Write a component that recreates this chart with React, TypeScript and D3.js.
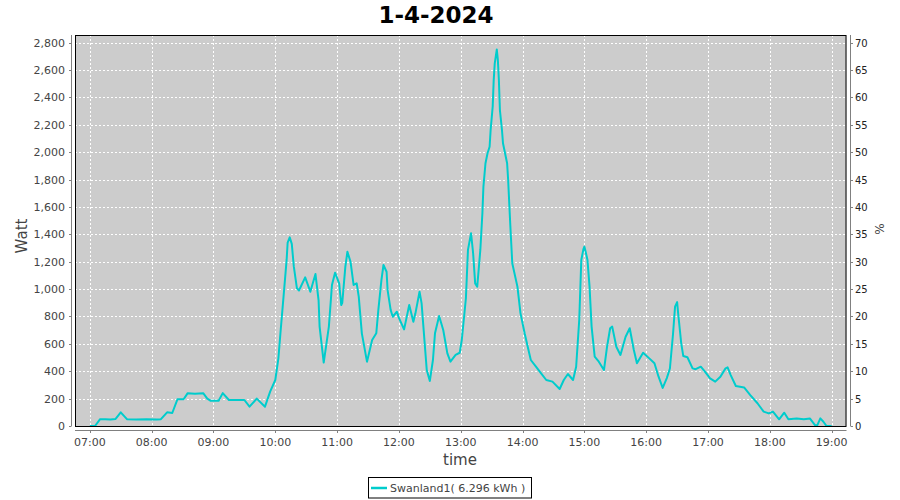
import React from "react";
import * as d3 from "d3";

const title = "1-4-2024";
const seriesName = "Swanland1( 6.296 kWh )";

const times: string[] = [
  "07:00","07:05","07:10","07:15","07:20","07:25","07:30","07:36","07:45","07:55",
  "08:05","08:09","08:15","08:20","08:25","08:31","08:35","08:42","08:50","08:54",
  "08:57","09:05","09:09","09:15","09:22","09:30","09:35","09:42","09:50","09:55",
  "10:00","10:03","10:05","10:08","10:11","10:12","10:14","10:16","10:18","10:21","10:23","10:29",
  "10:34","10:39","10:42","10:43","10:47","10:52","10:55","10:58","11:02","11:04",
  "11:05","11:08","11:10","11:13","11:16","11:19","11:21","11:24","11:29","11:34",
  "11:38","11:40","11:43","11:45","11:48","11:49","11:52","11:54","11:58","12:00",
  "12:05","12:10","12:14","12:16","12:20","12:22","12:25","12:27","12:30","12:33",
  "12:35","12:39","12:43","12:47","12:50","12:55","12:59","13:01","13:05","13:07",
  "13:10","13:12","13:14","13:16","13:19","13:21","13:22","13:24","13:26","13:28",
  "13:29","13:31","13:32","13:33","13:35","13:36","13:37","13:38","13:40","13:41",
  "13:43","13:45","13:46","13:48","13:50","13:55","13:58","14:02","14:05","14:08",
  "14:13","14:18","14:23","14:29","14:36","14:40","14:44","14:49","14:52","14:55",
  "14:57","14:59","15:00","15:01","15:03","15:05","15:07","15:10","15:14","15:19","15:22","15:25",
  "15:27","15:31","15:35","15:40","15:44","15:48","15:51","15:57","16:03","16:08",
  "16:12","16:16","16:20","16:23","16:26","16:28","16:30","16:31","16:34","16:36",
  "16:40","16:45","16:48","16:53","16:57","17:02","17:07","17:12","17:17","17:19",
  "17:22","17:27","17:35","17:41","17:48","17:54","17:59","18:03","18:09","18:14",
  "18:18","18:26","18:33","18:39","18:44","18:46","18:49","18:52","18:55","19:00"
];

const watts: number[] = [
  0,0,50,50,48,52,100,50,48,50,
  48,50,100,95,195,195,240,235,240,200,
  185,185,240,190,190,190,141,200,141,251,
  336,494,679,945,1213,1340,1378,1330,1164,1006,990,1086,
  981,1110,920,726,463,726,1030,1120,1042,884,
  900,1164,1273,1200,1030,1042,945,677,470,628,
  677,847,1066,1176,1127,993,847,798,835,790,
  706,884,762,823,981,896,604,409,329,482,
  677,804,701,531,470,519,535,628,933,1286,
  1408,1262,1042,1018,1286,1554,1748,1919,1992,2040,
  2162,2333,2528,2649,2750,2674,2528,2308,2162,2065,
  1992,1919,1797,1481,1189,1018,823,677,579,482,
  433,385,336,324,270,336,380,336,433,774,
  1213,1290,1310,1280,1213,1018,726,506,470,409,579,714,
  726,579,519,652,714,555,458,535,494,458,
  360,278,350,420,670,872,905,823,604,511,
  502,421,415,433,397,348,324,360,421,428,
  372,292,282,226,166,105,92,105,49,97,
  49,54,49,54,5,5,56,31,0,0
];

const xTickLabels: string[] = ["07:00","08:00","09:00","10:00","11:00","12:00","13:00","14:00","15:00","16:00","17:00","18:00","19:00"];
const yTicks: number[] = [0,200,400,600,800,1000,1200,1400,1600,1800,2000,2200,2400,2600,2800];
const y2Ticks: number[] = [0,5,10,15,20,25,30,35,40,45,50,55,60,65,70];

const toMin = (s: string) => {
  const [h, m] = s.split(":").map(Number);
  return (h - 7) * 60 + m;
};

export default function App() {
  const W = 900, H = 500;
  const L = 75, R = 846.5, T = 35, B = 426;
  const x = d3.scaleLinear().domain([-14.4, 734.4]).range([L, R]);
  const y = d3.scaleLinear().domain([0, 2856]).range([B, T]);
  const y2 = d3.scaleLinear().domain([0, 71.4]).range([B, T]);
  const data = times.map((t, i) => ({ m: toMin(t), w: watts[i] }));
  const line = d3.line<{ m: number; w: number }>().x(d => x(d.m)).y(d => y(d.w));
  const font = "'DejaVu Sans', sans-serif";
  const axisGray = "#808080";
  const labelGray = "#444444";
  const fmt = d3.format(",");

  return (
    <svg width={W} height={H} style={{ position: "absolute", left: 0, top: 0, background: "#fff" }} fontFamily={font}>
      <defs>
        <clipPath id="plotclip">
          <rect x={L} y={T} width={R - L} height={B - T} />
        </clipPath>
      </defs>
      <text x={436} y={23} textAnchor="middle" fontSize={23} fontWeight="bold" fill="#000">{title}</text>
      <rect x={L} y={T} width={R - L} height={B - T} fill="#cccccc" />
      {xTickLabels.map(t => (
        <line key={"gx" + t} x1={Math.round(x(toMin(t))) + 0.5} x2={Math.round(x(toMin(t))) + 0.5} y1={T} y2={B} stroke="#fff" strokeDasharray="2,2" strokeWidth={1} />
      ))}
      {yTicks.map(v => (
        <line key={"gy" + v} x1={L} x2={R} y1={Math.round(y(v)) + 0.5} y2={Math.round(y(v)) + 0.5} stroke="#fff" strokeDasharray="2,2" strokeWidth={1} />
      ))}
      <path d={line(data) || ""} fill="none" stroke="#00cccc" strokeWidth={2} clipPath="url(#plotclip)" strokeLinejoin="round" />
      <rect x={L + 0.5} y={T + 0.5} width={R - L - 1} height={B - T} fill="none" stroke="#000" strokeWidth={1} />
      {/* left axis */}
      <line x1={71.5} x2={71.5} y1={T} y2={B} stroke={axisGray} />
      {yTicks.map(v => (
        <g key={"yt" + v}>
          <line x1={69} x2={71.5} y1={Math.round(y(v)) + 0.5} y2={Math.round(y(v)) + 0.5} stroke={axisGray} />
          <text x={65} y={y(v) + 4} textAnchor="end" fontSize={11} fill={labelGray}>{fmt(v)}</text>
        </g>
      ))}
      {/* right axis */}
      <line x1={850.5} x2={850.5} y1={T} y2={B} stroke={axisGray} />
      {y2Ticks.map(v => (
        <g key={"y2t" + v}>
          <line x1={850.5} x2={853} y1={Math.round(y2(v)) + 0.5} y2={Math.round(y2(v)) + 0.5} stroke={axisGray} />
          <text x={855} y={y2(v) + 4} textAnchor="start" fontSize={10} fill="#222">{v}</text>
        </g>
      ))}
      {/* bottom axis */}
      <line x1={L} x2={R} y1={430.5} y2={430.5} stroke={axisGray} />
      {xTickLabels.map(t => (
        <g key={"xt" + t}>
          <line x1={Math.round(x(toMin(t))) + 0.5} x2={Math.round(x(toMin(t))) + 0.5} y1={430.5} y2={433} stroke={axisGray} />
          <text x={x(toMin(t))} y={446} textAnchor="middle" fontSize={11} fill={labelGray}>{t}</text>
        </g>
      ))}
      <text transform={`translate(27,236) rotate(-90)`} textAnchor="middle" fontSize={15} fill={labelGray}>Watt</text>
      <text transform={`translate(884,229) rotate(-90)`} textAnchor="middle" fontSize={12} fill={labelGray}>%</text>
      <text x={460} y={465} textAnchor="middle" fontSize={15} fill={labelGray}>time</text>
      {/* legend */}
      <rect x={368.5} y={477.5} width={163} height={20.5} fill="#fff" stroke="#000" strokeWidth={1} />
      <line x1={371} x2={387} y1={488} y2={488} stroke="#00cccc" strokeWidth={2.5} />
      <text x={390} y={492} fontSize={11} fill={labelGray}>{seriesName}</text>
    </svg>
  );
}
